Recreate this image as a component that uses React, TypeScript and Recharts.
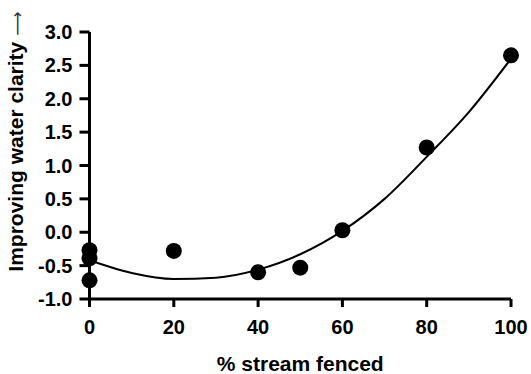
import React from 'react';
import { ComposedChart, Line, Scatter, XAxis, YAxis } from 'recharts';

// observed sites
const fencedPct = [0, 0, 0, 20, 40, 50, 60, 80, 100];
const clarity = [-0.27, -0.39, -0.72, -0.28, -0.6, -0.53, 0.03, 1.27, 2.65];

// fitted curve
const fitPct = [0, 10, 20, 30, 40, 50, 60, 70, 80, 90, 100];
const fitClarity = [-0.42, -0.61, -0.7, -0.68, -0.56, -0.33, 0.02, 0.5, 1.13, 1.8, 2.6];

const xTicks = [0, 20, 40, 60, 80, 100];
const yTicks = [-1, -0.5, 0, 0.5, 1, 1.5, 2, 2.5, 3];

const points = fencedPct.map((x, i) => ({ x, y: clarity[i] }));
const fit = fitPct.map((x, i) => ({ x, y: fitClarity[i] }));

const Dot = (props: any) => <circle cx={props.cx} cy={props.cy} r={8} fill="#000" />;

const YLabel = (props: any) => {
  const { viewBox } = props;
  const x = viewBox.x + 23;
  const y = viewBox.y + viewBox.height / 2 - 24;
  return (
    <text
      x={x}
      y={y}
      transform={`rotate(-90, ${x}, ${y})`}
      textAnchor="middle"
      fontSize={21}
      fontWeight="bold"
      fill="#000"
    >
      Improving water clarity
      <tspan dx={6} fontWeight="normal" fontSize={17} fontFamily="DejaVu Sans" fill="#333">
        {'\u27F6'}
      </tspan>
    </text>
  );
};

const XLabel = (props: any) => {
  const { viewBox } = props;
  return (
    <text
      x={viewBox.x + viewBox.width / 2}
      y={371}
      textAnchor="middle"
      fontSize={21}
      fontWeight="bold"
      fill="#000"
    >
      % stream fenced
    </text>
  );
};

const axisStyle = { stroke: '#000', strokeWidth: 3 };
const tickStyle = { fontSize: 20, fontWeight: 'bold', fill: '#000' };

export default function App() {
  return (
    <div
      style={{
        position: 'absolute',
        left: 0,
        top: 0,
        background: '#fff',
        fontFamily: '"Liberation Sans", Arial, sans-serif',
      }}
    >
      <ComposedChart width={531} height={374} margin={{ top: 32, right: 20, bottom: 0, left: 0 }}>
        <XAxis
          dataKey="x"
          type="number"
          domain={[0, 100]}
          ticks={xTicks}
          allowDuplicatedCategory={false}
          height={75}
          tickSize={8}
          tickMargin={13}
          axisLine={axisStyle}
          tickLine={axisStyle}
          tick={tickStyle}
          label={<XLabel />}
        />
        <YAxis
          type="number"
          domain={[-1, 3]}
          ticks={yTicks}
          width={89.5}
          tickSize={10}
          tickMargin={7}
          tickFormatter={(v: number) => v.toFixed(1)}
          axisLine={axisStyle}
          tickLine={axisStyle}
          tick={tickStyle}
          label={<YLabel />}
        />
        <Line
          data={fit}
          dataKey="y"
          type="monotone"
          stroke="#000"
          strokeWidth={2}
          dot={false}
          activeDot={false}
          isAnimationActive={false}
        />
        <Scatter data={points} dataKey="y" shape={<Dot />} isAnimationActive={false} />
      </ComposedChart>
    </div>
  );
}
